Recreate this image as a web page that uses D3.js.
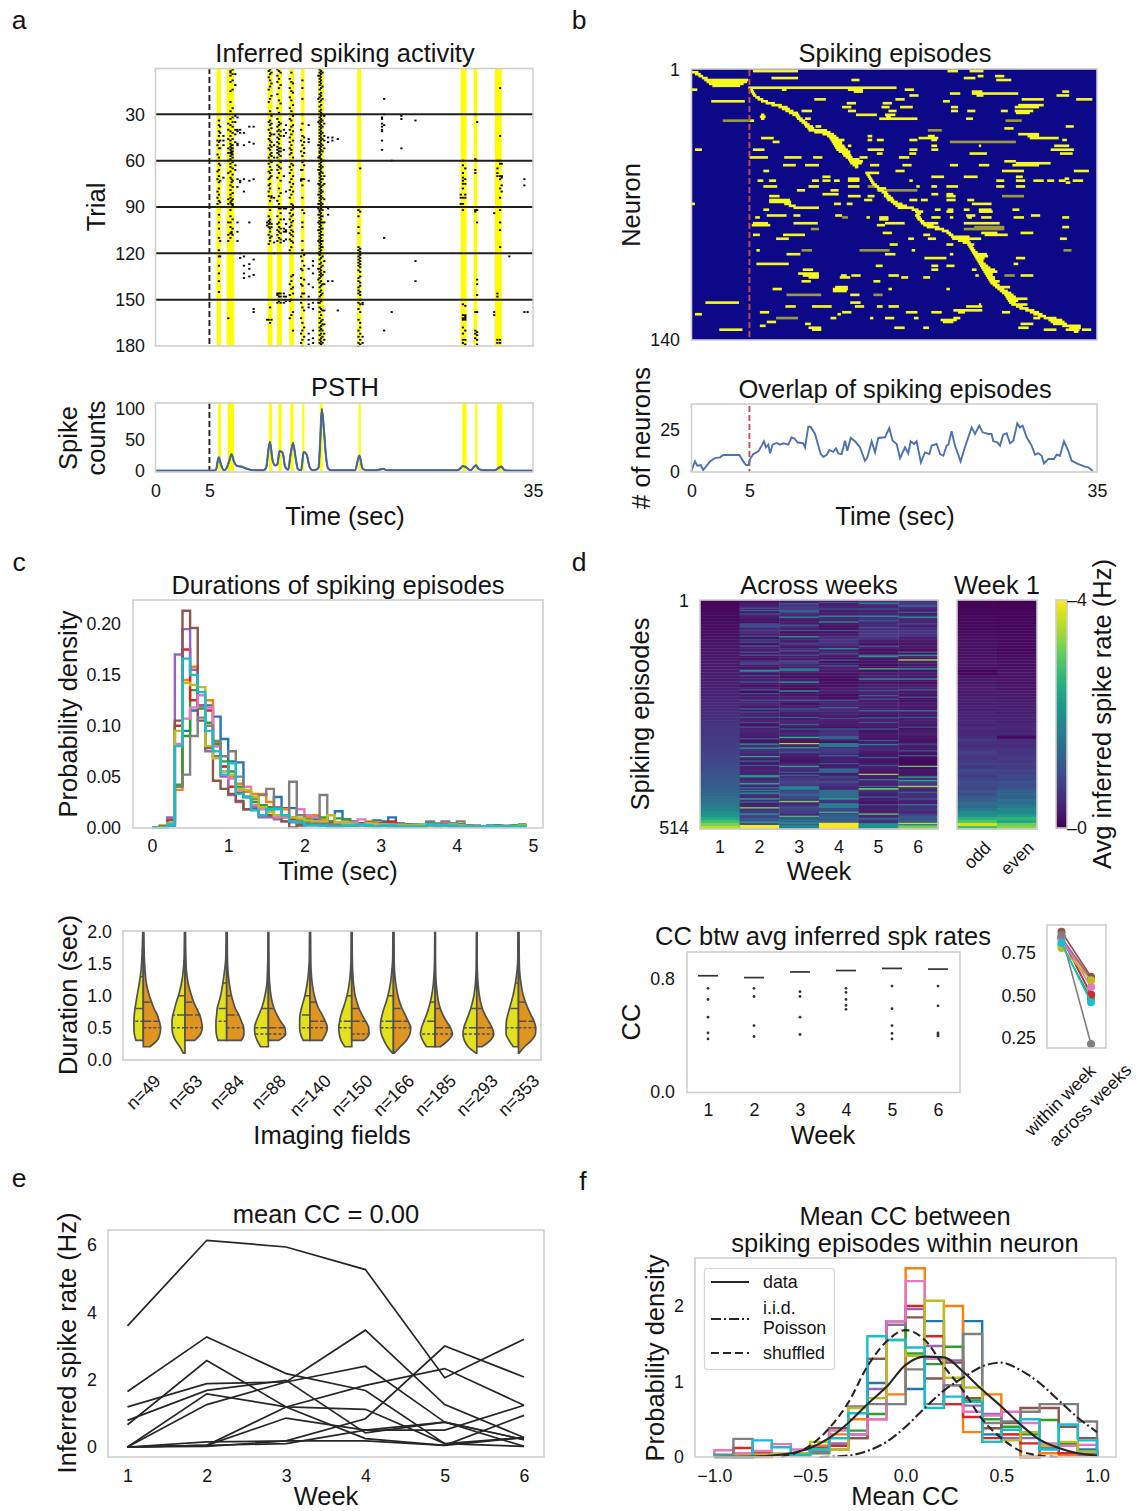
<!DOCTYPE html>
<html><head><meta charset="utf-8">
<script src="https://cdn.jsdelivr.net/npm/d3@7"></script>
<style>html,body{margin:0;padding:0;background:#fff}svg{display:block}text{font-family:"Liberation Sans",Arial,sans-serif;fill:#141414}</style>
</head><body>
<script>
// ---------- DATA ----------
const panelLetters=[["a",19,20],["b",579,20],["c",19,562],["d",579,562],["e",19,1178],["f",583,1181]];
const tab10=["#1f77b4","#ff7f0e","#2ca02c","#d62728","#9467bd","#8c564b","#e377c2","#7f7f7f","#bcbd22","#17becf"];
const stimOnset=5;
const rasterBands=[[5.66,6.06],[6.6,7.3],[10.4,10.85],[11.26,11.72],[12.4,12.85],[13.5,13.82],[15.07,15.6],[18.7,19.07],[28.3,28.84],[29.5,29.83],[31.46,32.1]];
const psthBands=[[5.8,6.06],[6.7,7.28],[10.53,10.8],[11.4,11.7],[12.5,12.8],[13.6,13.8],[15.23,15.5],[18.84,19.04],[28.44,28.84],[29.64,29.83],[31.66,32.15]];
const trialTicks=[30,60,90,120,150,180];
const rasterColumns=[
[5.75,[47,50,56,67,72,80,84,88]],
[5.88,[34,37,41,44,48,52,58,62,66,70,74,78,82,86,95,100,104,110,118,122,128,133,138,145]],
[6,[38,42,47,52,63,73,87,112,122]],
[6.3,[44,47,50,71]],
[6.75,[36,40,46,52,55,60,68,85,88,90,100,108,112,162]],
[6.95,[2,3,5,9,15,22,28,33,37,41,44,47,49,51,53,55,57,59,62,64,67,71,76,79,82,84,87,92,96,100,103,107,110]],
[7.15,[1,4,8,14,26,32,35,38,42,46,50,52,54,56,58,61,65,69,73,77,81,85,88,89,98,104,108]],
[7.05,[50,52,54,55,56,72,74,86,88,106,107]],
[7.4,[4,11,31,35,40,43,48,63,66]],
[7.6,[32,40,41,49,50,72,77,100,106,112]],
[7.85,[40,42,73,74,120,123]],
[8.2,[42,50,72,80,122,128,133,136]],
[8.7,[38,48,73,100,127,130,135]],
[9.1,[38,49,72,124,134,156,158]],
[10.35,[100,102,163]],
[10.5,[2,6,14,22,35,40,46,52,58,62,67,72,76,80,83,96,99,101,103,108,114,163]],
[10.62,[1,4,8,12,20,28,34,37,42,44,47,50,53,56,60,64,68,71,75,78,86,92,98,100,104,106,110,112,155,165]],
[10.75,[3,10,18,31,36,39,43,48,51,55,57,61,66,70,83,84,101,103,109,163]],
[11,[43,50,58,84,113,120]],
[11.3,[1,5,9,17,26,33,38,41,45,48,51,53,55,58,63,66,71,86,90,96,101,105,108,112,146,147,152]],
[11.45,[2,7,13,21,29,35,37,40,43,46,49,52,54,56,60,64,68,78,83,88,91,100,103,106,110,146,148,151]],
[11.6,[3,11,23,36,41,44,52,54,57,61,65,73,81,91,94,98,104,107,111,113,146,148,152]],
[11.9,[40,44,53,70,91,98,104,106,112,146,148,152]],
[12.1,[37,42,60,80,91,101,105,106,111,148,151]],
[12.45,[7,13,19,26,33,40,45,48,52,56,60,64,68,74,79,84,90,94,98,103,107,111,118,140,147,151,162]],
[12.6,[3,9,15,21,28,34,38,43,50,53,55,62,66,72,77,82,88,92,96,100,102,105,108,112,116,135,138,143,150,160]],
[12.75,[10,16,24,31,37,41,47,58,63,70,75,80,89,91,95,99,106,109,113,134,142,146,158,170]],
[13.5,[40,47,54,66,72,73,122,130,136,140,148,152,162,172,178]],
[13.62,[8,13,20,30,36,44,50,57,61,66,72,76,84,92,100,103,112,118,125,131,141,146,155,165,170,176,180]],
[13.78,[45,48,52,55,60,63,72,90,94,121,128,137,146,157,168,174]],
[14.2,[37,46,48,73,130,140,148,153,155,172,176,179]],
[14.6,[125,128,133,142,152,156,170,175,178]],
[15.1,[5,20,35,50,58,66,75,82,88,91,95,100,105,112,120,130,137,150,152]],
[15.22,[1,3,5,7,9,11,14,17,19,22,25,28,30,32,34,36,38,40,42,44,46,48,50,52,54,55,57,58,60,62,64,66,68,69,71,73,75,76,78,80,82,84,86,88,90,92,93,95,97,99,101,103,105,107,109,111,113,115,117,119,121,124,127,130,132,134,136,139,142,145,148,150,152,155,158,162,165,168,170,173,176,178]],
[15.35,[2,4,6,8,10,13,16,18,21,24,27,29,31,33,35,37,39,41,43,45,47,49,51,53,56,59,61,63,65,67,70,72,74,77,79,81,83,85,87,89,91,94,96,98,100,102,104,106,108,110,112,114,116,118,120,123,126,129,131,133,135,138,141,144,147,151,156,160,164,167,169,172,175,177,179]],
[15.48,[3,12,20,30,34,38,42,46,50,54,60,64,68,72,76,80,84,88,92,96,100,104,108,112,116,122,128,134,140,146,157,163,166,170,174,178]],
[15.65,[31,36,44,47,52,60,70,75,85,90,100,125,132,140,157,166,172,176]],
[16,[45,48,91,95,138]],
[16.4,[45,47,138]],
[16.9,[46,157]],
[18.82,[92,96,103,107,116,118,120,122,124,126,128,131,136,138,142,144,146,152,156,163,170,174,178,180]],
[18.98,[65,93,117,119,121,123,125,127,129,132,135,139,141,145,147,150,153,158,165,168,172,176,179]],
[19.2,[152,153,174,178]],
[21,[32,33,36,38,40,41,47,53]],
[21.2,[20,30,37,110,170]],
[21.9,[60,158]],
[22.8,[33,52,31]],
[24.1,[34,125,138]],
[28.3,[82,84,88]],
[28.5,[60,63,68,71,73,75,78,84,88,92,153,160,162,163,168,172,176,178]],
[28.72,[65,72,75,82,84,90,154,160,161,162,163,170,176,179]],
[29.65,[30,59,66,68,92,93,158,170,172,175]],
[29.82,[35,60,92,100,137,140,147,158,171,173,176,179]],
[31.4,[90,94,158,160]],
[31.7,[60,65,68,70,146,148,176,178]],
[31.95,[13,44,60,62,70,72,78,84,92,100,105,116,176,178]],
[32.1,[62,70,71,76,80]],
[32.8,[122]],
[34.2,[72,76,158]],
[34.5,[158]]
];
const psthTimes=[0,3,5,5.4,5.6,5.86,6.1,6.35,6.6,6.85,7.05,7.3,7.6,8,8.4,8.8,9.4,10,10.25,10.6,10.85,11.1,11.3,11.5,11.8,12,12.3,12.5,12.75,13,13.2,13.5,13.74,14,14.3,14.6,15,15.12,15.27,15.42,15.6,15.8,16,16.3,18,18.5,18.9,19.2,19.6,20.5,21.1,21.5,24,28,28.2,28.5,28.8,29.2,29.7,30,30.5,31.4,32.05,32.4,33,35];
const psthCounts=[0.5,0.5,0.5,0.6,2,22,9,1,5,17,27,14,8,7,4,2,1,1,5,47,18,9,11,32,29,8,2,24,45,20,3,1,31,27,6,1,3,6,48,100,70,25,4,1,1,1,25,4,1,1,3.5,1,1,1,3,8,6,1,9,3,1,1,7,1,0.5,0.5];

const sequentialEpisodes=[[1,0,.6],[2,.3,.8],[3,.6,1],[4,.9,1.4],[5,1.1,4.9],[6,1.3,4.8],[7,1.5,4.5],[8,1.8,4.2],
[9,4.9,17.7],[10,5,5.3],[11,5.1,5.4],[12,5.2,5.5],[13,5.3,5.6],[14,5.5,5.9],[15,5.7,6.2],[16,6,6.6],[17,6.4,7.2],[18,6.9,7.8],[19,7.5,8.3],[20,7.8,8.5],[21,8.1,8.8],[22,8.4,9.2],[23,8.7,9.3],[24,9,9.4],[25,9.1,9.6],[26,9.3,9.8],[27,9.5,10],[28,9.7,10.2],[29,9.8,10.5],[30,10,10.6],[31,10.1,11.7],[32,10.6,12],[33,11.3,12.3],[34,11.7,12.5],[35,11.9,12.7],[36,12,13.2],[37,12.1,13],[38,12.2,13],[39,12.3,13.2],[40,12.4,13.3],[41,12.5,13.5],[42,12.7,13.7],[43,13,13.7],[44,13.1,13.8],[45,13.3,13.9],[46,13.5,14.5],[47,13.6,14.8],[48,13.7,14.7],[49,13.9,14.4],[50,14.1,14.4],
[53,15,16.2],[54,15.1,15.4],[55,15.2,15.5],[56,15.3,15.6],[57,15.4,15.7],[58,15.5,15.8],[59,15.6,16],[60,15.8,16.2],[61,16,16.8],[62,16.1,16.6],[63,16.4,16.9],[64,16.6,17],[65,16.6,17.2],[66,16.8,17.4],[67,16.9,17.5],[68,17.2,17.8],[69,17.4,18.2],[70,17.6,18.6],[71,17.8,19.2],[72,19,19.6],[73,19.3,20],[74,19.4,19.8],[75,19.3,19.7],[76,19.4,19.8],[77,19.5,19.9],[78,19.7,20.1],[79,19.8,20.3],[80,20,20.9],[81,20.3,21.4],[82,21,21.8],[83,21.6,22.2],[84,22,22.4],[85,22.2,22.6],[86,22.4,24],[87,22.5,25],[88,23,24],[89,23.4,24.1],[90,23.8,24.4],[91,23.9,24.3],[92,24,24.4],[93,24.1,24.5],[94,24.2,24.7],[95,24.3,25.5],[96,24.4,25.6],[97,24.5,25.3],[98,24.6,25.2],[99,24.7,25.2],[100,24.8,25.4],[101,24.9,25.6],[102,25,25.8],[103,25.1,26.2],[104,25.2,26.4],[105,25.3,26],[106,25.4,26],[107,25.5,26.2],[108,25.6,26.2],[109,25.7,26.6],[110,25.8,26.4],[111,26,26.6],[112,26.2,27.5],[113,26.4,27],[114,26.6,27.3],[115,26.8,27.6],[116,27,27.8],[117,27.1,28],[118,27.2,29],[119,27.3,28.2],[120,27.4,28],[121,27.6,29],[122,28,28.6],[123,28.3,29.1],[124,28.8,29.6],[125,29.2,30],[126,29.5,30.3],[127,29.9,30.6],[128,30.4,31.5],[129,30.8,32],[130,31,32.2],[131,31.2,32.4],[132,32,33.6],[133,32.6,33.6],[134,32.8,33.4],[135,33,33.4]];
const scatteredEpisodes=[[0.4,5.3,9.2],[0.4,22.1,23],[0.4,24,25.2],[4,6.9,9.2],[5,13.8,14.5],[4,23.5,24.5],[3,24.7,25.2],[3,26.2,27],[5,26.3,27.6],[10,0,.5],[10,7.8,8.2],[10,13.5,14.8],[11,14,14.8],[10,18.4,19.2],[12,22.3,23.2],[12,24.2,28.2],[11,24.2,25.1],[13,24.6,25.2],[13,18.8,19.6],[13,31.5,32.6],[11,32,32.6],[15,10.6,11.6],[15,17.6,18.4],[15,28.5,30.4],[15,33.2,34.6],[16,1.7,4.6],[16,21.7,22.3],[17,13.4,14.2],[17,16.5,17.3],[18,28.2,30.4],[19,13,13.8],[19,16.4,17.1],[19,18,19.1],[19,22.4,23],[19,27.9,30],[21,9.5,10.4],[21,13.5,14.2],[21,17,17.7],[21,22.4,23],[21,23.8,24.5],[21,26.7,27.3],[21,27.9,29.5],[22,28,29.2],[23,14.2,16],[23,16.7,17.6],[24,16.8,17.2],[25,16.2,19.5],[25,23.7,24.3],[23,6,6.3],[24,5.9,6.4],[25,6,6.3],[25,9.8,10.3],[26,5,5.4],[29,10.7,11.2],[30,27,27.8],[29,32.3,33],[33,28.2,30],[34,29,30],[34,15.2,15.6],[35,6,7.1],[35,19.6,21.3],[35,29.2,31.7],[34,20.4,21],[36,15.2,15.6],[36,16,16.6],[36,18.8,19.5],[36,20.7,21.2],[36,32,32.4],[37,7,7.6],[39,13.5,13.8],[39,20.7,21.2],[39,24.8,25],[39,31.3,32.6],[41,.3,.9],[41,5.3,6.3],[41,15.2,16.6],[41,18.8,19.5],[41,20.7,21.3],[41,31,33],[43,16,16.5],[43,18.8,19.4],[43,24,25.5],[43,31.8,32.9],[45,5,6.6],[45,8,9.5],[45,10.5,11.3],[45,14.5,15.2],[45,17.9,18.8],[47,27,28],[48,28,31],[49,7.9,9],[49,9.8,11],[49,15.4,16.2],[49,18.2,19],[49,22.3,23],[49,24.8,25.7],[49,27.7,30],[52,6.2,6.7],[52,17.6,18.4],[52,26.8,28.7],[52,33,34.3],[55,11.3,12],[55,20.7,21.8],[55,23.5,24.7],[55,28,28.6],[56,13.5,14.5],[57,5.7,6.2],[57,6.7,7.3],[57,10.4,11],[57,11.3,12],[57,12.3,12.8],[57,13.5,14.5],[57,18.8,19.1],[57,26.3,27],[57,28,28.8],[57,29.5,30.4],[57,30.7,31.3],[57,31.7,32.3],[57,32.9,33.8],[56,32.2,32.6],[58,32.3,32.7],[60,6.2,7.4],[60,10.1,11],[60,13.5,14.5],[60,19.4,19.7],[60,20.7,21.2],[60,22,23],[60,26.3,27],[60,28,28.8],[62,9.1,9.8],[62,12,12.7],[64,20.7,21.3],[64,22,22.6],[64,11.3,12.7],[65,6.7,7.6],[65,13.5,14.6],[65,15.2,15.8],[65,22,22.8],[67,6.7,8.5],[67,14.9,15.6],[67,18.8,19.5],[67,19.8,20.4],[67,22,22.8],[67,23.8,24.4],[68,6.7,8.6],[69,0,.3],[69,8,8.6],[69,12.3,12.9],[69,13.4,13.9],[69,24.2,25.9],[70,8.4,9],[71,8.8,11],[72,6.2,6.7],[72,21,21.5],[72,22.1,22.6],[72,23.5,24],[72,24.8,25.9],[72,27.7,28.3],[73,22,22.6],[73,24.8,26],[75,6.5,8.2],[75,8.8,9.4],[75,12.4,13],[75,23.7,24.5],[75,29.3,30.1],[76,5.5,5.9],[76,15.1,15.4],[76,16.2,17],[77,16.2,17],[76,20.7,21.5],[76,22.3,22.6],[76,23.8,24.2],[76,25,25.9],[76,27.8,28.7],[76,32,32.6],[79,5.3,6.6],[79,8.8,10.9],[79,16.7,18.4],[79,20.3,21.3],[79,23.5,26.6],[80,5.2,6.8],[80,16,16.7],[81,32,32.6],[84,16.5,17.3],[84,28.4,29.5],[84,25,26.4],[85,5.3,5.9],[85,7.9,9.8],[85,20,20.6],[85,25.3,27.3],[87,7.3,8.4],[87,18.7,19.2],[87,20.4,21.1],[87,31.8,32.4],[90,17.1,17.8],[90,22,22.6],[93,5.6,5.9],[93,19,19.3],[95,8.2,9.4],[95,16.7,17.6],[95,22.3,22.6],[97,20.1,22],[97,28,28.8],[100,5.6,8.4],[100,27.8,28.2],[101,20.7,21.3],[101,15.9,16.5],[101,22,22.7],[103,9.6,10.5],[103,20.7,21.3],[103,24.2,24.6],[105,9.2,11],[106,9.6,11],[106,12.9,13.4],[106,13.8,14.6],[106,17,17.9],[106,24.5,24.8],[106,28.4,29.5],[107,10.1,11],[107,12.8,13.7],[107,18.1,18.7],[107,20,20.6],[109,9.5,10.3],[109,15.7,16.3],[112,12.4,13.5],[113,12.2,13.5],[114,12.2,13.4],[113,7,7.8],[113,17,17.3],[113,22,22.3],[116,13.7,14.5],[120,1.2,4.1],[120,13.7,14.6],[122,8.1,9],[122,10.4,12.1],[122,14.1,14.9],[122,16,16.5],[122,17,17.9],[122,23.7,25.1],[121,24.8,25],[124,22.6,25.1],[125,5.9,6.7],[125,13,13.8],[125,18.5,19.5],[125,20.7,21.6],[125,26.8,27.5],[125,23,23.6],[126,.3,.9],[126,12.6,12.9],[128,12,12.5],[128,15.4,15.7],[128,16.7,17.5],[128,19.2,19.6],[128,22.6,23.2],[128,29.5,30.1],[129,21.5,22.9],[130,21.7,22.6],[130,6.5,7.3],[131,9.8,10.3],[131,28.4,29.5],[132,5.9,6.4],[133,17.5,18.4],[133,20,20.5],[133,28.2,29.1],[133,10.1,11.2],[134,10.4,11.2],[134,2.4,4.4],[134,30.4,31.5],[134,32.3,33.5],[134,33.7,34.5]];
const dimEpisodes=[[26,2.7,5],[26,27.1,28.5],[31,20.4,21.6],[37,22.3,28],[62,16,19.5],[82,10.3,11],[81,24.4,27],[93,14.5,17.1],[93,9.5,10.4],[93,32.1,32.8],[116,8.2,11.2],[116,15.7,16.5],[106,27,27.9],[128,7.3,9.2],[65,26.8,28.7],[76,13,13.5],[60,15.2,16],[82,23.5,27]];
const overlapTimes=[0,.1,.3,.5,.8,1,1.25,1.6,2.03,2.46,2.75,4.13,4.47,4.7,4.93,5.05,5.34,5.77,6.06,6.26,6.43,6.63,6.78,7,7.35,7.64,7.93,8.36,8.64,8.93,9.13,9.65,9.8,10.08,10.28,10.66,11.15,11.38,11.67,11.9,12.24,12.47,12.67,12.96,13.25,13.45,13.74,14.11,14.54,14.97,15.18,15.55,15.84,16.12,16.7,17.07,17.36,17.71,18,18.43,18.71,18.92,19.2,19.43,19.8,20.15,20.53,20.73,21.16,21.45,21.74,22.02,22.17,22.45,22.74,23.23,23.6,24.18,24.47,24.84,25.13,25.62,25.9,26.05,26.4,26.63,26.9,27.2,27.49,27.78,28.12,28.35,28.58,28.93,29.36,29.65,29.93,30.22,30.42,30.8,31.29,31.52,31.8,32.15,32.52,32.81,33.39,33.96,34.25,34.62];
const overlapCounts=[0,2.5,6.1,3.5,3.9,.9,2.9,6.1,8.1,8.5,9.9,9.9,6.1,3.9,3.9,7.5,10.5,12.1,15.6,18.2,14.6,16.2,10.9,16.2,17.2,16.2,17,16.2,20.6,19.6,17.6,17,14.6,27,27,22.6,10.5,8.9,10.1,13,11.9,14,10.9,10.5,18.6,12.5,20.2,18.2,14.6,6.5,8.5,18.2,11.5,20.2,20.6,26.2,18.6,16.6,8.1,14.6,10.9,18.2,16.6,18.2,5.5,11.5,10.5,15.6,16.6,10.5,9.5,15.6,16.2,24.2,15.6,6.1,14.6,26.6,22.6,27.6,23.6,22.6,22.6,18.2,17.6,15.6,22.2,23,17,18.6,29,26.6,27.6,20.6,15.6,10.1,11.1,9.5,4.9,7.5,7.5,10.1,9.5,18.2,12.5,6.5,4.5,2.9,2.5,.5];

const durationBins=d3.range(0,4.9,0.1);
const durationDensity=[
[0,0,.002,.04,.095,.115,.12,.12,.109,.087,.065,.064,.035,.03,.022,.02,.03,.019,.019,.005,.01,.008,.005,.006,.016,.008,.006,.004,.005,.007,.006,.01,.004,.003,.003,.002,.005,.003,.003,.004,.003,.002,.001,.001,.002,.002,.001,.002,.001],
[0,.002,.003,.037,.145,.158,.12,.125,.083,.06,.05,.043,.035,.033,.033,.025,.02,.018,.01,.008,.01,.012,.008,.006,.004,.005,.005,.003,.006,.005,.004,.004,.003,.003,.002,.002,.003,.003,.002,.003,.003,.002,.002,.001,.001,.001,.001,.002,.002],
[0,.001,.004,.042,.09,.135,.117,.103,.082,.065,.055,.04,.03,.025,.022,.02,.02,.012,.01,.006,.008,.01,.01,.006,.009,.008,.005,.004,.005,.003,.004,.005,.004,.003,.002,.003,.002,.004,.003,.002,.003,.002,.002,.001,.001,.002,.001,.002,.003],
[0,0,.008,.1,.175,.125,.12,.115,.08,.06,.04,.035,.03,.022,.02,.012,.012,.01,.008,.004,.006,.005,.006,.004,.003,.003,.003,.004,.003,.003,.004,.006,.003,.002,.002,.001,.002,.002,.003,.002,.002,.001,.001,.001,.001,.001,.001,.001,.001],
[0,0,.01,.17,.195,.155,.12,.075,.07,.05,.032,.025,.018,.02,.01,.01,.008,.006,.005,.003,.003,.004,.002,.002,.003,.002,.002,.003,.002,.002,.002,.002,.001,.001,.001,.001,.002,.001,.002,.001,.001,.001,.001,.001,.001,.001,.001,.001,.001],
[0,0,.007,.105,.213,.196,.105,.078,.046,.038,.033,.026,.018,.018,.012,.012,.01,.006,0,.002,.003,.005,.003,.002,.002,.003,.002,.003,.002,.002,.002,.001,.001,.001,.001,.001,.002,.002,.002,.002,.002,.001,.001,.001,.001,.001,.001,.001,.001],
[0,0,.004,.082,.107,.118,.13,.118,.08,.055,.048,.036,.04,.022,.018,.016,.01,.01,.01,.018,.012,.01,.006,.003,.005,.004,.005,.008,.004,.003,.003,.003,.003,.002,.002,.002,.003,.003,.005,.003,.002,.001,.002,.001,.001,.001,.002,.001,.001],
[0,0,.003,.04,.052,.09,.108,.1,.085,.07,.075,.05,.03,.028,.032,.038,.02,.012,.045,.012,.005,.003,.032,.003,.002,.002,.003,.002,.002,.002,.002,.002,.002,.002,.002,.002,.006,.003,.006,.004,.006,.002,.001,.001,.001,.001,.001,.001,.001],
[0,0,.004,.095,.142,.14,.138,.08,.068,.055,.052,.038,.037,.03,.02,.015,.012,.012,.01,.009,.007,.006,.006,.012,.005,.004,.003,.003,.004,.003,.003,.002,.002,.002,.002,.003,.002,.002,.002,.003,.002,.001,.001,.001,.001,.001,.001,.001,.002],
[0,0,.003,.08,.166,.15,.133,.095,.075,.052,.063,.033,.03,.017,.012,.018,.018,.012,.006,.005,.002,.002,.002,.001,.001,.002,.002,.003,.002,.001,.002,.002,.001,.001,.001,.001,.003,.002,.002,.002,.001,.001,.001,.001,.001,.001,.001,.001,.001]];
const fieldLabels=["n=49","n=63","n=84","n=88","n=140","n=150","n=166","n=185","n=293","n=353"];
const violinDurations=[.1,.2,.3,.4,.5,.6,.7,.8,.9,1,1.2,1.4,1.6,2];
const violinCutLeft=[.3,.1,.3,.2,.3,.2,.1,.2,.1,.2];
const violinCutRight=[.2,.3,.3,.3,.3,.3,.1,.2,.2,.1];
const violinLeft=[
[.1,.2,.42,.52,.54,.54,.52,.48,.42,.36,.23,.13,.08,.03],
[.1,.3,.55,.7,.75,.75,.7,.6,.5,.38,.2,.1,.05,.03],
[.1,.2,.5,.6,.62,.62,.58,.55,.45,.35,.22,.12,.05,.03],
[.1,.45,.65,.78,.8,.7,.55,.4,.28,.2,.08,.05,.03,.02],
[.1,.2,.4,.55,.6,.6,.58,.5,.4,.3,.16,.08,.04,.03],
[.1,.4,.62,.72,.75,.7,.62,.5,.38,.28,.14,.07,.04,.03],
[.05,.35,.55,.7,.75,.73,.65,.55,.42,.32,.17,.09,.04,.03],
[.1,.5,.72,.85,.78,.65,.5,.38,.28,.2,.1,.05,.03,.02],
[.05,.5,.72,.8,.75,.62,.48,.35,.25,.17,.08,.04,.03,.02],
[.1,.3,.55,.72,.72,.7,.62,.52,.42,.32,.18,.08,.04,.03]];
const violinRight=[
[.1,.38,.8,.96,1,.92,.8,.62,.48,.35,.17,.1,.06,.03],
[.1,.2,.56,.9,1,.95,.85,.68,.5,.38,.18,.08,.05,.03],
[.1,.2,.85,1,.98,.85,.7,.5,.38,.28,.15,.07,.04,.03],
[.1,.2,.6,1,.95,.7,.5,.33,.22,.15,.07,.04,.03,.02],
[.1,.2,.7,.9,1,.88,.7,.5,.35,.25,.12,.06,.04,.03],
[.1,.2,.7,1,.98,.8,.6,.42,.3,.2,.1,.05,.03,.02],
[.05,.4,.75,.95,1,.85,.68,.5,.36,.26,.13,.06,.04,.03],
[.1,.3,.75,1,.88,.65,.45,.3,.2,.14,.06,.03,.02,.02],
[.1,.3,.78,.98,.88,.68,.48,.32,.22,.15,.07,.03,.02,.02],
[.03,.35,.75,.98,1,.9,.72,.55,.4,.28,.14,.06,.04,.03]];
const quartilesLeft=[[.6,.8,1.3],[.5,.7,1],[.6,.8,1.2],[.4,.5,.8],[.5,.7,1],[.5,.6,1],[.5,.6,1],[.4,.6,.9],[.4,.5,.8],[.5,.8,1.2]];
const quartilesRight=[[.5,.6,.9],[.5,.7,.9],[.5,.7,1],[.4,.5,.8],[.5,.6,.9],[.4,.6,.8],[.5,.6,.8],[.4,.5,.8],[.4,.5,.8],[.5,.6,.9]];

const weeks=[1,2,3,4,5,6];
const rateWeek1=[.05,.06,.08,.09,.10,.11,.12,.13,.14,.15,.16,.17,.18,.19,.20,.21,.22,.23,.24,.25,.26,.27,.28,.29,.30,.31,.32,.33,.34,.36,.37,.38,.40,.42,.44,.46,.48,.50,.52,.54,.56,.58,.60,.62,.64,.66,.68,.70,.72,.75,.78,.81,.84,.87,.90,.93,.96,1.0,1.04,1.08,1.12,1.17,1.22,1.27,1.33,1.4,1.48,1.56,1.66,1.8,1.95,2.1,2.4,2.8,3.2,3.6];
const rateWeek2=[.15,.3,.35,.3,.25,.3,.2,.15,.25,.5,.55,.3,.2,.15,.2,.35,.3,.25,.15,.2,.3,.25,.2,.3,.2,.3,.35,.25,.2,.3,.15,.25,.3,.35,.4,.25,.2,.3,.35,.3,.25,.2,.35,.4,.35,.3,.2,.25,.45,.6,.5,.35,.3,.4,.2,.3,.4,.35,.5,.4,.6,.45,.4,.5,.55,.4,.45,.35,.4,.6,.7,.8,.7,.9,1.0,1.2];
const rateWeek3=[.3,.55,.7,.7,.5,.3,.25,.3,.4,.3,.15,.25,.35,.3,.2,.25,.4,.3,.2,.35,.4,.45,.25,.2,.2,.15,.3,.25,.2,.15,.15,.25,.35,.3,.2,.35,.5,.3,.2,.3,.4,.35,.2,.3,.45,.35,.25,.2,.4,.6,.5,.35,.25,.2,.4,.55,.4,.3,.5,.7,.8,.7,.5,.8,1.1,.9,.7,.4,.6,.8,.7,.4,1,1.2,1.2,1.5];
const rateWeek4=[.15,.3,.4,.25,.35,.4,.4,.25,.2,.15,.2,.3,.55,.6,.55,.3,.25,.2,.3,.15,.2,.3,.35,.25,.2,.15,.1,.15,.2,.3,.3,.15,.15,.3,.4,.25,.45,.4,.3,.2,.3,.25,.15,.5,.6,.55,.3,.2,.45,.7,.65,.45,.3,.35,.2,.3,.4,.3,.4,.55,.65,.55,.4,.45,.6,.7,.6,.5,.7,.9,.8,1,1.2,1.2,1.5,1.8];
const rateWeek5=[.6,.45,.35,.3,.4,.5,.55,.45,.4,.5,.65,.7,.6,.3,.2,.25,.15,.2,.3,.25,.2,.15,.2,.15,.3,.35,.25,.2,.35,.4,.3,.2,.25,.25,.35,.3,.4,.3,.2,.3,.2,.3,.25,.2,.3,.25,.2,.25,.4,.45,.3,.2,.25,.2,.3,.35,.25,.2,.3,.35,.4,.35,.25,.5,.35,.3,.3,.2,.3,.35,.3,.4,.6,.5,1.2,1.4];
const rateWeek6=[.6,.7,.45,.3,.35,.3,.4,.35,.3,.5,.65,.6,.35,.25,.2,.25,.15,.2,.25,.2,.3,.25,.35,.2,.3,.25,.2,.15,.3,.35,.25,.2,.15,.2,.3,.25,.2,.3,.25,.3,.35,.25,.2,.25,.35,.25,.2,.2,.3,.3,.2,.15,.12,.08,.1,.08,.25,.2,.35,.5,.7,.6,.45,.35,.5,.45,.35,.3,.5,.6,.45,.8,1,.9,1.6,2];
const rateHighlights=[
[2,17,1],[2,22,1.1],[2,30,1],[2,52,.9,9],[2,80,1.1],[2,88,1],[2,93,1],[2,102,1],[2,116,.9],[2,123,.9],[2,138,.8,8],[2,157,2,4],[2,168,1],[2,183,1.1],[2,200,1],[2,209,1],[2,224,.9],[2,243,1.4],[2,250,1],[2,262,1.1],[2,273,1],[2,284,1],[2,310,1.2],[2,322,2.2,3],[2,331,2.2],[2,350,2.5],[2,360,1.1],[2,370,1.2],[2,393,2.2,5],[2,411,2.5],[2,420,1.6],[2,426,1.8],[2,432,2.2],[2,445,2.5],[2,452,1.4],[2,465,3.2],[2,479,2.2],[2,490,1.4],[2,497,2.4],[2,505,4,9],
[3,7,1.2],[3,22,1.2,6],[3,37,2],[3,56,1.2],[3,67,1.1],[3,81,2.2],[3,97,1.1],[3,112,1.1],[3,123,1],[3,137,1.1],[3,153,1.7,7],[3,183,2.2],[3,203,2.2],[3,224,1.2],[3,243,1.1],[3,262,1.2],[3,278,1.2],[3,288,1.2],[3,307,2.6],[3,321,3.6,2],[3,330,2.2],[3,340,1.1],[3,372,2.4],[3,385,1.2],[3,392,1.3],[3,418,1.8,8],[3,437,1.3],[3,451,3.2],[3,464,1],[3,484,2.8],[3,493,1.6],[3,499,2.2],[3,505,1.8,9],
[4,4,1],[4,19,1],[4,35,2],[4,48,2],[4,67,1.1],[4,108,2],[4,118,1],[4,133,1.2],[4,146,1],[4,224,1.1],[4,240,1.5,2],[4,265,1],[4,288,1.2],[4,305,1.2,8],[4,321,1.6,9],[4,348,1.2],[4,366,1.1],[4,378,1.3,10],[4,396,1.1],[4,407,1.1],[4,426,1.4,20],[4,445,2.4],[4,456,1.7,11],[4,475,2.6],[4,486,1.4],[4,500,4,14],
[5,6,1.8],[5,19,1.2],[5,35,2],[5,45,1.1],[5,60,1.1],[5,103,1.1],[5,124,2.2,4],[5,153,2.6],[5,176,2],[5,202,1.1],[5,213,1.2],[5,221,1.1],[5,247,1.3],[5,263,1.2],[5,273,1.1],[5,288,1.1],[5,314,1.1],[5,323,1.8],[5,352,1.2],[5,370,1],[5,390,3.4,2],[5,402,1.6],[5,417,1.4],[5,422,3,4],[5,441,1.2],[5,458,1.1],[5,479,3],[5,490,1.5],[5,501,2,13],
[6,11,1.1,5],[6,26,1.2],[6,37,2.2],[6,52,1],[6,116,1],[6,123,2],[6,133,3.4],[6,153,2],[6,176,2],[6,200,1.1],[6,217,1],[6,247,1.6],[6,262,1.1],[6,284,1],[6,322,1],[6,337,1.1],[6,348,1.2],[6,372,3],[6,396,2.4],[6,404,2.4],[6,417,3.4],[6,430,1.3],[6,445,1.2],[6,458,1.6],[6,486,1.3],[6,494,1.3],[6,500,3.6,3],[6,506,3.2,8]];
const rateOdd=[.04,.04,.05,.05,.06,.08,.07,.09,.1,.09,.12,.11,.14,.13,.16,.15,.17,.18,.16,.2,.22,.2,.18,.04,.05,.2,.25,.23,.27,.3,.26,.28,.3,.33,.3,.36,.32,.4,.36,.42,.45,.38,.5,.42,.46,.5,.7,.55,.5,.6,.72,.65,.6,.7,.75,.65,.9,.8,.7,.8,.95,.9,.85,1.05,.95,1.15,1.2,1.45,1.3,1.6,1.9,2.0,2.5,2.9,3.7,2.8];
const rateEven=[.03,.04,.03,.05,.05,.06,.07,.07,.08,.09,.09,.1,.11,.1,.12,.08,.07,.1,.12,.13,.14,.15,.14,.18,.2,.17,.22,.2,.24,.22,.27,.25,.28,.3,.33,.3,.35,.33,.38,.4,.37,.42,.45,.4,.48,.12,.5,.55,.5,.6,.58,.62,.7,.65,.72,.7,.8,.75,.9,.85,1.0,.95,1.05,1.2,1.3,1.2,1.5,1.4,1.6,1.9,1.8,2.2,2.6,2.4,3.1,3.3];

const ccMedians=[.823,.81,.85,.86,.875,.87];
const ccFliers=[[.734,.655,.53,.418,.376],[.734,.676,.47,.393],[.71,.676,.53,.407],[.734,.706,.655,.613,.585],[.75,.59,.47,.415,.376],[.75,.61,.418,.397,.405]];
const ccConditions=["within week","across weeks"];
const ccPairs=[[.84,.505],[.83,.59],[.80,.48],[.845,.505],[.84,.60],[.875,.61],[.835,.55],[.855,.215],[.78,.59],[.81,.46]];

const neuronRates=[
[3.6,6.14,5.94,5.27,2.06,3.2],
[1.65,3.27,2.18,1.68,.1,.28],
[.66,2.57,1.19,.25,.05,.28],
[1.19,1.88,1.93,3.47,1.26,.28],
[.79,1.68,1.98,.42,.74,.22],
[0,1.58,1.19,1.12,.1,.02],
[0,1.26,1.93,2.4,.74,.02],
[0,.05,1.19,1.83,2.33,1.24],
[0,.05,.86,.5,.5,1.24],
[0,.15,.18,.84,3,2.08],
[0,.05,.1,.5,.74,.22],
[0,.02,.18,.18,.05,.94]];

const ccBins=d3.range(-1,1,0.1);
const ccDensity=[
[0,0,.03,.03,.05,.1,.15,.3,.98,1.8,.9,1.8,.7,1.8,.3,.25,0,.15,.15,.1],
[0,0,0,.03,.05,.15,.3,.5,.5,.83,2.5,1.3,2,.33,.83,.3,0,.05,.02,.02],
[.02,.02,.02,.03,.03,.05,.25,.35,.57,1.75,1.37,1.23,1.46,.75,.5,.4,.3,.49,.17,.05],
[.01,.12,.05,.03,.05,.1,.15,.25,1.3,1.8,2,1.6,.7,.53,.25,.3,.18,.13,.05,.03],
[.01,.02,.03,.04,.05,.08,.18,.3,.9,1.75,1.96,1.47,1.28,.68,.57,.25,.25,.12,.15,.03],
[.02,.05,.02,.03,.02,.12,.38,.25,1.3,1.8,1.85,1.04,1.25,.78,.38,.45,.65,.65,.4,.25],
[.09,.05,.08,.17,.1,.1,.35,.3,.5,1.8,2.33,1.3,.95,.6,.55,.6,.45,.18,.15,.16],
[.03,.24,.03,.04,.03,.06,.1,.67,.7,.7,1.16,.7,.95,1.63,.45,.47,.6,.7,.7,.47],
[.01,.02,.03,.04,.05,.2,.1,.65,.78,1.55,1.34,2.07,1.05,.92,.2,.22,.33,.15,.2,.07],
[.01,0,.22,.13,.03,.1,.25,.58,1.6,1.55,1.45,.65,.8,.73,.2,.36,.5,.1,.43,.22]];
const kdeDataX=[-1,-.8,-.7,-.6,-.5,-.4,-.3,-.2,-.1,0,.1,.2,.3,.4,.5,.6,.7,.8,.9,1];
const kdeDataY=[0,.005,.02,.05,.12,.25,.45,.7,.93,1.22,1.33,1.32,1.13,.89,.67,.43,.23,.12,.05,.02];
const kdeShuffledX=[-.65,-.5,-.4,-.3,-.2,-.1,0,.1,.2,.3,.4,.5,.6,.7,.8];
const kdeShuffledY=[0,.15,.38,.72,1.2,1.53,1.68,1.55,1.2,.88,.5,.25,.08,.02,0];
const kdePoissonX=[-.45,-.3,-.2,-.1,0,.1,.2,.3,.4,.5,.6,.7,.8,.9,1];
const kdePoissonY=[0,.02,.08,.2,.4,.65,.88,1.05,1.2,1.25,1.15,.98,.75,.52,.33];

// ---------- HELPERS ----------
const W=1137,H=1511,TXT="#141414",FRAME="#cfcfcf",TS=17.8,LS=25.5;
const svg=d3.select("body").append("svg").attr("width",W).attr("height",H);
function label(x,y,s,size=LS,rot=0,anchor="middle"){
  return svg.append("text").attr("transform",`translate(${x},${y}) rotate(${rot})`).attr("dy","0.35em")
   .attr("text-anchor",anchor).attr("font-size",size).text(s);
}
function frame(x0,y0,x1,y1){
  svg.append("rect").attr("x",x0).attr("y",y0).attr("width",x1-x0).attr("height",y1-y0)
   .attr("fill","none").attr("stroke",FRAME).attr("stroke-width",1.6);
}
function axisB(scale,vals,y,fmt,pad=11){
  const g=svg.append("g").attr("transform",`translate(0,${y})`)
    .call(d3.axisBottom(scale).tickValues(vals).tickSize(0).tickPadding(pad).tickFormat(fmt||(d=>d)));
  g.select(".domain").remove(); g.selectAll("text").attr("font-size",TS).attr("font-family",'"Liberation Sans"').attr("fill",TXT);
  return g;
}
function axisL(scale,vals,x,fmt,pad=10){
  const g=svg.append("g").attr("transform",`translate(${x},0)`)
    .call(d3.axisLeft(scale).tickValues(vals).tickSize(0).tickPadding(pad).tickFormat(fmt||(d=>d)));
  g.select(".domain").remove(); g.selectAll("text").attr("font-size",TS).attr("font-family",'"Liberation Sans"').attr("fill",TXT);
  return g;
}
function stepHist(g,x,y,bins,w,vals,color,sw=2.4){
  const pts=bins.map((b,i)=>[x(b),y(vals[i])]);
  pts.unshift([x(bins[0]),y(0)]);
  pts.push([x(bins[bins.length-1]+w),y(vals[vals.length-1])]);
  pts.push([x(bins[bins.length-1]+w),y(0)]);
  g.append("path").attr("d",d3.line().curve(d3.curveStepAfter)(pts.slice(0,-2)))
    .attr("fill","none").attr("stroke",color).attr("stroke-width",sw);
  g.append("path").attr("d",d3.line()([pts[pts.length-3],pts[pts.length-2],pts[pts.length-1]]))
    .attr("fill","none").attr("stroke",color).attr("stroke-width",sw);
}
panelLetters.forEach(([s,x,y])=>label(x,y,s,26.5));

// ---------- a ----------
{
  const x=d3.scaleLinear([0,35],[155.5,533]);
  const yT=d3.scaleLinear([0,180],[68,346]);
  const g=svg.append("g");
  g.selectAll(".b").data(rasterBands).join("rect").attr("x",d=>x(d[0])).attr("width",d=>x(d[1])-x(d[0])).attr("y",68).attr("height",278).attr("fill","#ffff00");
  const dots=rasterColumns.flatMap(([t,tr])=>tr.map(k=>[t,k]));
  g.selectAll(".d").data(dots).join("rect").attr("x",d=>x(d[0])-1.1).attr("y",d=>yT(d[1])-.9).attr("width",2.2).attr("height",1.8).attr("fill","#000");
  g.selectAll(".t").data(trialTicks.slice(0,5)).join("line").attr("x1",155).attr("x2",533).attr("y1",yT).attr("y2",yT).attr("stroke","#1f1f1f").attr("stroke-width",2);
  g.append("line").attr("x1",x(stimOnset)).attr("x2",x(stimOnset)).attr("y1",68).attr("y2",346).attr("stroke","#222").attr("stroke-width",1.9).attr("stroke-dasharray","6,3");
  frame(155.5,68.5,533,346);
  axisL(yT,trialTicks,145,null,0);
  label(345,53,"Inferred spiking activity");
  label(96,207,"Trial",LS,-90);
  // PSTH
  const yP=d3.scaleLinear([0,100],[471,409]);
  svg.append("g").selectAll("rect").data(psthBands).join("rect").attr("x",d=>x(d[0])).attr("width",d=>x(d[1])-x(d[0])).attr("y",403).attr("height",68).attr("fill","#ffff00");
  svg.append("line").attr("x1",x(stimOnset)).attr("x2",x(stimOnset)).attr("y1",403).attr("y2",472).attr("stroke","#222").attr("stroke-width",1.9).attr("stroke-dasharray","6,3");
  const line=d3.line().x((d,i)=>x(psthTimes[i])).y(d=>yP(d)).curve(d3.curveMonotoneX);
  svg.append("path").attr("d",line(psthCounts)).attr("fill","none").attr("stroke","#111").attr("stroke-width",1.6);
  svg.append("path").attr("d",line(psthCounts)).attr("fill","none").attr("stroke","#4c72b0").attr("stroke-width",2.2).attr("opacity",.85);
  frame(155.5,403,533,472);
  axisL(yP,[0,50,100],145,null,0);
  axisB(x,[0,5,35],472,null,12);
  label(345,387,"PSTH");
  label(68,438,"Spike",LS,-90);
  label(96,438,"counts",LS,-90);
  label(345,516,"Time (sec)");
}
// ---------- b ----------
{
  const x=d3.scaleLinear([0,35],[691.5,1097]);
  const y=d3.scaleLinear([0,140],[69,340]);
  const rowH=(y(1)-y(0));
  svg.append("rect").attr("x",691.5).attr("y",69).attr("width",405.5).attr("height",271).attr("fill","#0d0887");
  const g=svg.append("g");
  const bar=(sel,data,col)=>sel.selectAll("r").data(data).join("rect").attr("x",d=>x(d[1])).attr("width",d=>x(d[2])-x(d[1])).attr("y",d=>y(d[0])).attr("height",rowH+.7).attr("fill",col);
  bar(g.append("g"),dimEpisodes,"#9a9a3a");
  bar(g.append("g"),scatteredEpisodes,"#f6f91f");
  bar(g.append("g"),sequentialEpisodes,"#f6f91f");
  svg.append("line").attr("x1",x(stimOnset)).attr("x2",x(stimOnset)).attr("y1",70).attr("y2",340).attr("stroke","#c44e52").attr("stroke-width",1.9).attr("stroke-dasharray","6,3");
  frame(691.5,69,1097,340);
  label(675,70,"1",TS);
  label(680,340,"140",TS,0,"end");
  label(895,53,"Spiking episodes");
  label(631,205,"Neuron",LS,-90);
  const yO=d3.scaleLinear([0,25],[471.5,430]);
  svg.append("line").attr("x1",x(stimOnset)).attr("x2",x(stimOnset)).attr("y1",406).attr("y2",472).attr("stroke","#c44e52").attr("stroke-width",1.9).attr("stroke-dasharray","6,3");
  svg.append("path").attr("d",d3.line().x((d,i)=>x(overlapTimes[i])).y(d=>yO(d))(overlapCounts)).attr("fill","none").attr("stroke","#4c72b0").attr("stroke-width",1.9);
  frame(691.5,404,1097,472);
  axisL(yO,[0,25],680,null,0);
  axisB(x,[0,5,35],472,null,12);
  label(895,389,"Overlap of spiking episodes");
  label(641,438,"# of neurons",LS,-90);
  label(895,516,"Time (sec)");
}
// ---------- c top ----------
{
  const x=d3.scaleLinear([0,5],[152,533]);
  const y=d3.scaleLinear([0,.2],[827.5,624]);
  const g=svg.append("g");
  durationDensity.forEach((v,i)=>stepHist(g,x,y,durationBins,.1,v,tab10[i]));
  frame(133,600,543,828);
  axisL(y,[0,.05,.1,.15,.2],121,d3.format(".2f"),0);
  axisB(x,[0,1,2,3,4,5],828,null,11);
  label(338,585,"Durations of spiking episodes");
  label(338,871,"Time (sec)");
  label(68,714,"Probability density",LS,-90);
}
// ---------- c bottom ----------
{
  const x=d3.scalePoint(fieldLabels,[143.3,518.5]);
  const y=d3.scaleLinear([0,2],[1059.5,932]);
  const wd=d3.scaleLinear([0,1],[0,17.3]);
  const g=svg.append("g");
  const half=(i,prof,cut,sign,color,q)=>{
    const cx=x(fieldLabels[i]);
    const pts=violinDurations.map((d,k)=>[d,prof[k]]).filter(p=>p[0]>=cut-1e-6);
    const path=d3.line().x(p=>cx+sign*wd(p[1])).y(p=>y(p[0])).curve(d3.curveMonotoneY)(pts);
    g.append("path").attr("d",`M${cx},${y(cut)}L`+path.slice(1)+`L${cx},${y(2)}Z`).attr("fill",color).attr("stroke","#505050").attr("stroke-width",1.7);
    const interp=d3.scaleLinear(violinDurations,prof);
    q.forEach((v,k)=>{
      g.append("line").attr("x1",cx).attr("x2",cx+sign*wd(interp(v))).attr("y1",y(v)).attr("y2",y(v))
       .attr("stroke","#505050").attr("stroke-width",1.5).attr("stroke-dasharray",k==0?"3,2":k==1?"8,2":"7,3");
    });
  };
  fieldLabels.forEach((f,i)=>{
    half(i,violinLeft[i],violinCutLeft[i],-1,"#e3e01c",quartilesLeft[i]);
    half(i,violinRight[i],violinCutRight[i],1,"#df951f",quartilesRight[i]);
  });
  frame(123,931,541,1060);
  axisL(y,[0,.5,1,1.5,2],112,d3.format(".1f"),0);
  fieldLabels.forEach(f=>{
    const h=f.length*9.2/2*.707;
    label(x(f),1079+h,f,TS,-45);
  });
  label(332,1135,"Imaging fields");
  label(68,995,"Duration (sec)",LS,-90);
}
// ---------- d top ----------
{
  const color=v=>d3.interpolateViridis(Math.min(1,Math.max(0,v/4)));
  const x=d3.scaleBand(weeks,[700,938]);
  const allWeeks=[rateWeek1,rateWeek2,rateWeek3,rateWeek4,rateWeek5,rateWeek6];
  const yRow=d3.scaleLinear([0,514],[600,829]);
  const drawCol=(g,vals,x0,w)=>{
    const h=229/vals.length;
    g.selectAll("r").data(vals).join("rect").attr("x",x0).attr("width",w).attr("y",(d,i)=>600+i*h).attr("height",h+.4).attr("fill",color);
  };
  allWeeks.forEach((v,i)=>drawCol(svg.append("g"),v,x(weeks[i]),x.bandwidth()+.3));
  svg.append("g").selectAll("rect").data(rateHighlights).join("rect").attr("x",d=>x(d[0])).attr("width",x.bandwidth()).attr("y",d=>yRow(d[1])).attr("height",d=>Math.max(1.2,yRow(d[3]||3)-600)).attr("fill",d=>color(d[2]));
  frame(700,600,938,829);
  axisB(x,weeks,829,null,11);
  label(819,585,"Across weeks");
  label(819,871,"Week");
  label(684,601,"1",TS);
  label(689,828,"514",TS,0,"end");
  label(640,714,"Spiking episodes",LS,-90);
  // Week 1 odd/even
  const xo=d3.scaleBand(["odd","even"],[957,1037]);
  drawCol(svg.append("g"),rateOdd,xo("odd"),xo.bandwidth()+.3);
  drawCol(svg.append("g"),rateEven,xo("even"),xo.bandwidth());
  frame(957,600,1037,829);
  label(997,585,"Week 1");
  label(977,855,"odd",TS,-45);
  label(1017,858,"even",TS,-45);
  // colorbar
  const cb=d3.scaleLinear([0,4],[828,600]);
  svg.append("g").selectAll("rect").data(d3.range(0,4,.02)).join("rect").attr("x",1056).attr("width",11).attr("y",d=>cb(d+.02)-.5).attr("height",2.2).attr("fill",color);
  frame(1056,600,1067,828);
  const cbAx=svg.append("g").attr("transform","translate(1067,0)").call(d3.axisRight(cb).tickValues([0,4]).tickSize(0).tickPadding(0).tickFormat(d=>"–"+d));
  cbAx.select(".domain").remove(); cbAx.selectAll("text").attr("font-size",TS).attr("font-family",'"Liberation Sans"').attr("fill",TXT);
  label(1102,714,"Avg inferred spike rate (Hz)",LS,-90);
}
// ---------- d bottom ----------
{
  const x=d3.scalePoint(weeks,[708,938]);
  const y=d3.scaleLinear([0,.8],[1092,979]);
  const g=svg.append("g");
  g.selectAll("line").data(ccMedians).join("line").attr("x1",(d,i)=>x(weeks[i])-10).attr("x2",(d,i)=>x(weeks[i])+10).attr("y1",d=>y(d)).attr("y2",d=>y(d)).attr("stroke","#333").attr("stroke-width",1.7);
  ccFliers.forEach((f,i)=>g.append("g").selectAll("circle").data(f).join("circle").attr("cx",x(weeks[i])).attr("cy",d=>y(d)).attr("r",1.4).attr("fill","#333"));
  frame(687,952,960,1092.5);
  axisL(y,[0,.8],675,d3.format(".1f"),0);
  axisB(x,weeks,1092.5,null,11);
  label(823,936,"CC btw avg inferred spk rates");
  label(823,1135,"Week");
  label(631,1022,"CC",LS,-90);
  const xc=d3.scalePoint(ccConditions,[1061.5,1091]);
  const yc=d3.scaleLinear([.25,.75],[1038,953]);
  const gc=svg.append("g");
  const dl=d3.line().x((d,i)=>xc(ccConditions[i])).y(d=>yc(d));
  ccPairs.forEach((p,i)=>{
    gc.append("path").attr("d",dl(p)).attr("stroke",tab10[i]).attr("stroke-width",1.6).attr("fill","none");
    gc.append("g").selectAll("circle").data(p).join("circle").attr("cx",(d,k)=>xc(ccConditions[k])).attr("cy",d=>yc(d)).attr("r",4).attr("fill",tab10[i]);
  });
  frame(1047,925,1106,1048);
  axisL(yc,[.25,.5,.75],1036,d3.format(".2f"),0);
  label(1060,1100,ccConditions[0],TS,-45);
  label(1090,1105,ccConditions[1],TS,-45);
}
// ---------- e ----------
{
  const x=d3.scalePoint(weeks,[127.5,524]);
  const y=d3.scaleLinear([0,6],[1447,1245]);
  svg.append("g").selectAll("path").data(neuronRates).join("path")
    .attr("d",d3.line().x((d,i)=>x(weeks[i])).y(d=>y(d))).attr("fill","none").attr("stroke","#262626").attr("stroke-width",1.7);
  frame(108,1230,544,1457);
  axisL(y,[0,2,4,6],97,null,0);
  axisB(x,weeks,1457,null,12);
  label(326,1214,"mean CC = 0.00");
  label(326,1496,"Week");
  label(67,1343,"Inferred spike rate (Hz)",LS,-90);
}
// ---------- f ----------
{
  const x=d3.scaleLinear([-1,1],[714.3,1097]);
  const y=d3.scaleLinear([0,2],[1457,1306]);
  const g=svg.append("g");
  ccDensity.forEach((v,i)=>stepHist(g,x,y,ccBins,.1,v,tab10[i]));
  const ln=(xs,ys,dash)=>g.append("path").attr("d",d3.line().x((d,i)=>x(xs[i])).y(d=>y(d)).curve(d3.curveMonotoneX)(ys)).attr("fill","none").attr("stroke","#262626").attr("stroke-width",2.1).attr("stroke-dasharray",dash);
  ln(kdeDataX,kdeDataY,null);
  ln(kdePoissonX,kdePoissonY,"10,3,2,3");
  ln(kdeShuffledX,kdeShuffledY,"8,4");
  frame(695,1258,1116,1457);
  axisL(y,[0,1,2],684,null,0);
  axisB(x,[-1,-.5,0,.5,1],1457,d=>d3.format(".1f")(d).replace("-","−"),12);
  label(905,1216,"Mean CC between");
  label(905,1243,"spiking episodes within neuron");
  label(905,1496,"Mean CC");
  label(655,1358,"Probability density",LS,-90);
  svg.append("rect").attr("x",704.5).attr("y",1268.5).attr("width",130).attr("height",101).attr("rx",3).attr("fill","#fff").attr("fill-opacity",.85).attr("stroke","#d5d5d5").attr("stroke-width",1.2);
  const legend=[["data",1282,null,[1282]],["i.i.d.\nPoisson",1319,"10,3,2,3",[1308,1328]],["shuffled",1353,"8,4",[1353]]];
  legend.forEach(([s,ly,dash,ys])=>{
    svg.append("line").attr("x1",711).attr("x2",749).attr("y1",ly).attr("y2",ly).attr("stroke","#262626").attr("stroke-width",2).attr("stroke-dasharray",dash);
    s.split("\n").forEach((t,i)=>label(763,ys[i],t,TS,0,"start"));
  });
}
</script>
</body></html>
